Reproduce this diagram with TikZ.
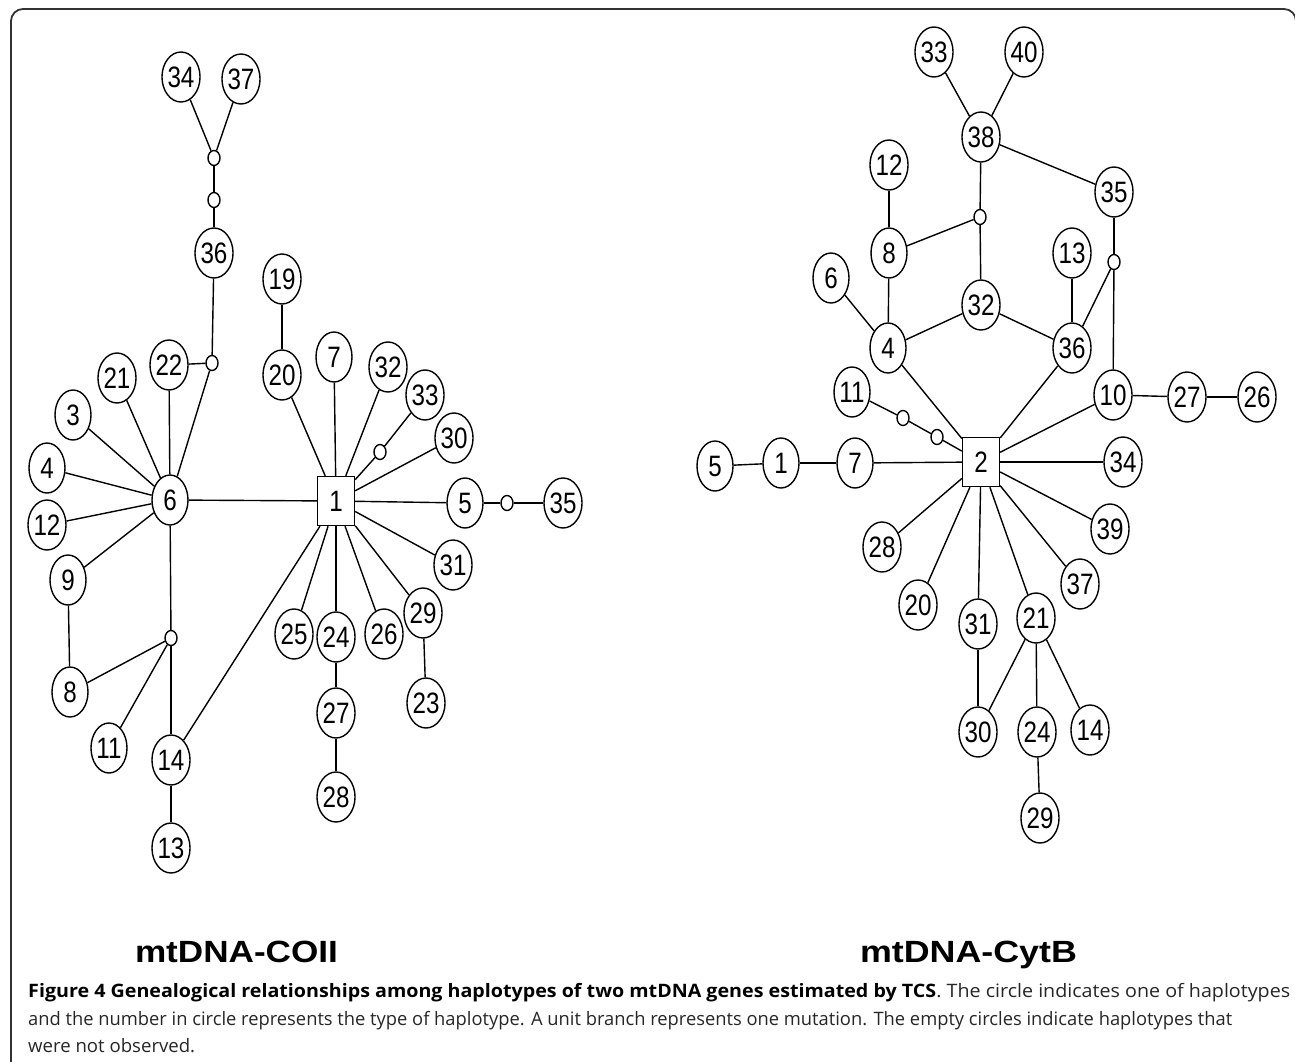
\documentclass[tikz,border=0pt]{standalone}
\usepackage{fontspec}
\setmainfont{Liberation Sans}
\newfontfamily\numfont[FakeStretch=0.82]{Liberation Sans}
\newfontfamily\capfont{Open Sans}
\usetikzlibrary{shapes.geometric}
\newlength\fitlen
\newcommand\fitto[2]{\settowidth\fitlen{#2}\pgfmathsetmacro\fitsx{#1/\fitlen}\scalebox{\fitsx}[1]{#2}}
\begin{document}
\begin{tikzpicture}[x=1pt,y=-1pt,
  hap/.style={ellipse,draw,line width=1.4pt,minimum width=36pt,minimum height=50pt,inner sep=0pt,font=\numfont\fontsize{29.5}{29.5}\selectfont},
  sq/.style={rectangle,draw,line width=1.4pt,minimum width=37pt,minimum height=49pt,inner sep=0pt,font=\numfont\fontsize{29.5}{29.5}\selectfont},
  emp/.style={ellipse,draw,line width=1.4pt,minimum width=12pt,minimum height=15pt,inner sep=0pt},
  edge/.style={line width=1.4pt},
  captext/.style={anchor=base west,inner sep=0pt,text=black!85}]
\useasboundingbox (0,0) rectangle (1295,1062);
\draw[line width=1.8pt,black!80] (11,1062) -- (11,21) arc[start angle=180,end angle=270,radius=12] -- (1284,9) arc[start angle=270,end angle=360,radius=12];
% left network
\node[hap] (L34) at (181,77) {34};
\node[hap] (L37) at (241,79) {37};
\node[emp] (Le1) at (214,158) {};
\node[emp] (Le2) at (214,200) {};
\node[hap] (L36) at (214,253) {36};
\node[hap] (L19) at (282,279) {19};
\node[hap] (L22) at (169,365) {22};
\node[emp] (Le3) at (212,363) {};
\node[hap] (L21) at (117,378) {21};
\node[hap] (L20) at (282,375) {20};
\node[hap] (L7) at (334,357) {7};
\node[hap] (L32) at (388,367) {32};
\node[hap] (L33) at (425,395) {33};
\node[hap] (L30) at (454,438) {30};
\node[emp] (Le4) at (380,452) {};
\node[hap] (L3) at (73,415) {3};
\node[hap] (L4) at (47,468) {4};
\node[hap] (L6) at (170,500) {6};
\node[sq] (L1) at (336,501) {1};
\node[hap] (L5) at (465,503) {5};
\node[emp] (Le5) at (507,503) {};
\node[hap] (L35) at (563,503) {35};
\node[hap] (L12) at (47,525) {12};
\node[hap] (L9) at (68,580) {9};
\node[hap] (L31) at (453,565) {31};
\node[hap] (L29) at (423,613) {29};
\node[hap] (L25) at (294,634) {25};
\node[hap] (L24) at (336,637) {24};
\node[hap] (L26) at (384,634) {26};
\node[emp] (Le6) at (171,638) {};
\node[hap] (L8) at (70,692) {8};
\node[hap] (L23) at (426,703) {23};
\node[hap] (L27) at (336,713) {27};
\node[hap] (L11) at (109,748) {11};
\node[hap] (L14) at (171,760) {14};
\node[hap] (L28) at (336,797) {28};
\node[hap] (L13) at (171,848) {13};
\foreach \a/\b in {L34/Le1,L37/Le1,Le1/Le2,Le2/L36,L36/Le3,L22/Le3,Le3/L6,L21/L6,L22/L6,L3/L6,L4/L6,L12/L6,L9/L6,L6/L1,L6/Le6,L9/L8,L8/Le6,L11/Le6,Le6/L14,L14/L13,L14/L1,L19/L20,L20/L1,L7/L1,L32/L1,L33/Le4,Le4/L1,L30/L1,L1/L5,L5/Le5,Le5/L35,L31/L1,L29/L1,L29/L23,L26/L1,L24/L1,L24/L27,L27/L28,L25/L1}
  \draw[edge] (\a) -- (\b);
% right network
\node[hap] (R33) at (934,52) {33};
\node[hap] (R40) at (1024,52) {40};
\node[hap] (R38) at (981,137) {38};
\node[hap] (R12) at (889,165) {12};
\node[hap] (R35) at (1114,192) {35};
\node[emp] (Re7) at (980,217) {};
\node[hap] (R8) at (889,253) {8};
\node[hap] (R13) at (1072,253) {13};
\node[emp] (Re8) at (1114,262) {};
\node[hap] (R6) at (831,278) {6};
\node[hap] (R32) at (981,305) {32};
\node[hap] (R4) at (888,348) {4};
\node[hap] (R36) at (1072,348) {36};
\node[hap] (R11) at (852,392) {11};
\node[hap] (R10) at (1113,395) {10};
\node[hap] (R27) at (1187,397) {27};
\node[hap] (R26) at (1257,397) {26};
\node[emp] (Re9) at (903,418) {};
\node[emp] (Re10) at (937,437) {};
\node[hap] (R5) at (715,466) {5};
\node[hap] (R1) at (781,463) {1};
\node[hap] (R7) at (855,463) {7};
\node[sq] (R2) at (981,462) {2};
\node[hap] (R34) at (1123,462) {34};
\node[hap] (R39) at (1110,529) {39};
\node[hap] (R28) at (882,547) {28};
\node[hap] (R37) at (1080,584) {37};
\node[hap] (R20) at (918,605) {20};
\node[hap] (R31) at (978,624) {31};
\node[hap] (R21) at (1036,618) {21};
\node[hap] (R30) at (978,732) {30};
\node[hap] (R24) at (1037,732) {24};
\node[hap] (R14) at (1090,730) {14};
\node[hap] (R29) at (1040,818) {29};
\foreach \a/\b in {R33/R38,R40/R38,R38/R35,R38/Re7,Re7/R8,Re7/R32,R12/R8,R8/R4,R6/R4,R4/R32,R32/R36,R13/R36,R36/Re8,R35/Re8,Re8/R10,R4/R2,R36/R2,R10/R2,R10/R27,R27/R26,R11/Re9,Re9/Re10,Re10/R2,R5/R1,R1/R7,R7/R2,R2/R34,R2/R39,R2/R37,R2/R21,R2/R31,R2/R20,R2/R28,R21/R30,R31/R30,R21/R24,R21/R14,R24/R29}
  \draw[edge] (\a) -- (\b);
% titles
\node[anchor=base,inner sep=0pt] (tA) at (236.5,962) {\bfseries\fontsize{30.7}{31}\selectfont\fitto{203}{mtDNA-COII}};
\node[anchor=base,inner sep=0pt] (tB) at (968.5,962) {\bfseries\fontsize{30.7}{31}\selectfont\fitto{217}{mtDNA-CytB}};
% caption
\node[captext] (c1) at (28,997) {\capfont\fontsize{18.5}{19}\selectfont\fitto{1262}{\textbf{\color{black}Figure 4 Genealogical relationships among haplotypes of two mtDNA genes estimated by TCS}. The circle indicates one of haplotypes}};
\node[captext] (c2) at (28,1025) {\capfont\fontsize{18.5}{19}\selectfont\fitto{1204}{and the number in circle represents the type of haplotype. A unit branch represents one mutation. The empty circles indicate haplotypes that}};
\node[captext] (c3) at (28,1052) {\capfont\fontsize{18.5}{19}\selectfont\fitto{167}{were not observed.}};
\end{tikzpicture}
\end{document}
